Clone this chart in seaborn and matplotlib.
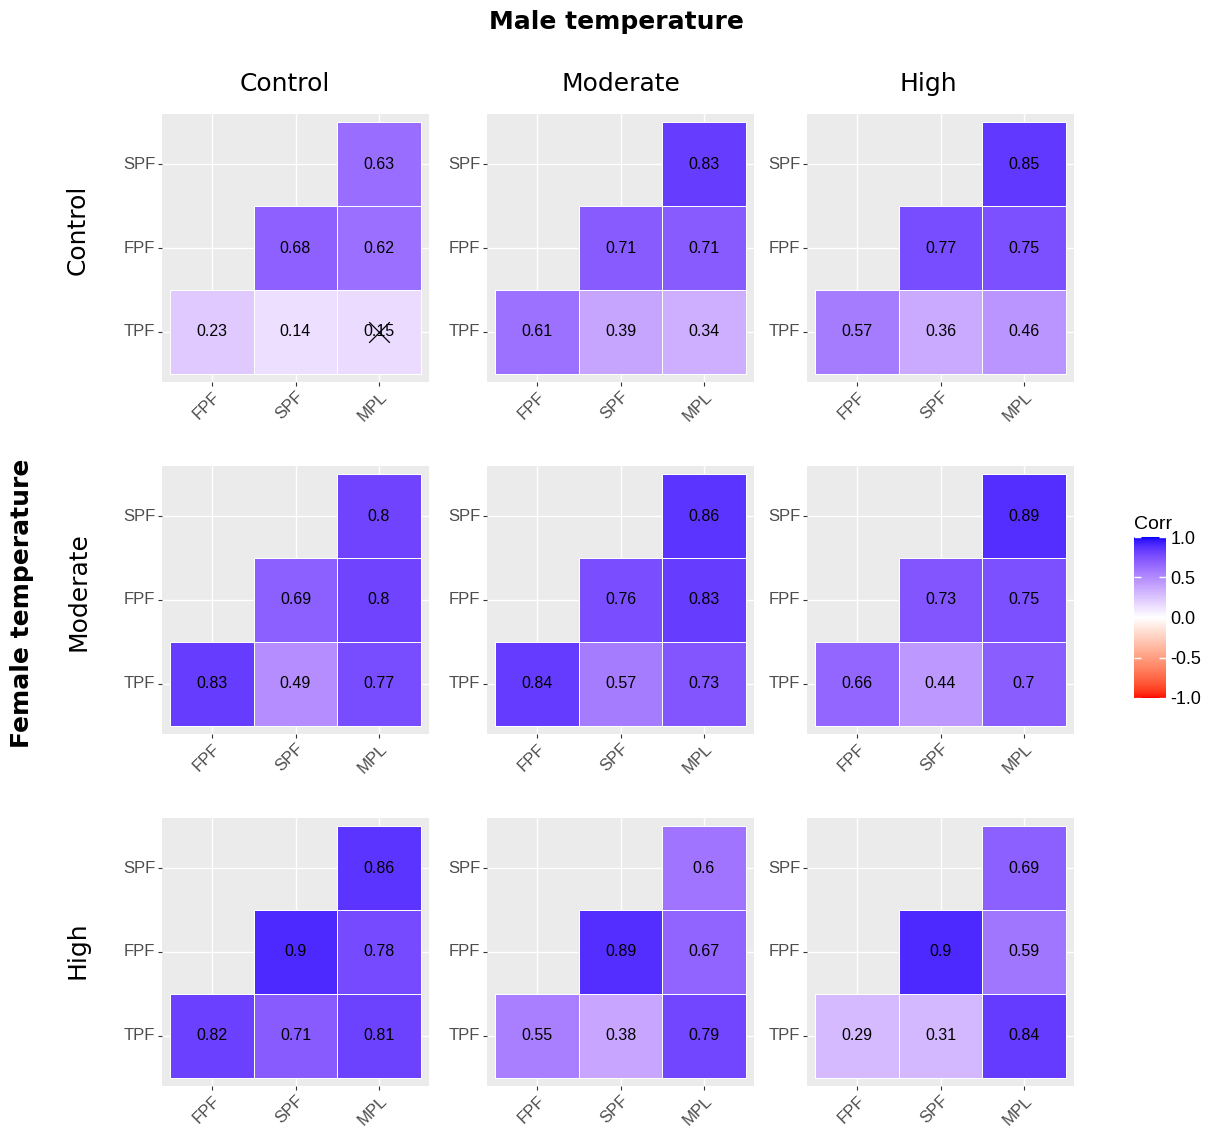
import numpy as np
import pandas as pd
import matplotlib
matplotlib.use("Agg")
import matplotlib.pyplot as plt
import seaborn as sns
from matplotlib.colors import ListedColormap

temps = ["Control", "Moderate", "High"]
row_vars = ["SPF", "FPF", "TPF"]   # top to bottom
col_vars = ["FPF", "SPF", "MPL"]
# lower triangle, in this order of pairs
pairs = [("SPF", "MPL"), ("FPF", "SPF"), ("FPF", "MPL"),
         ("TPF", "FPF"), ("TPF", "SPF"), ("TPF", "MPL")]

# one list per male temperature inside each female temperature
female_control = [[0.63, 0.68, 0.62, 0.23, 0.14, 0.15],
                  [0.83, 0.71, 0.71, 0.61, 0.39, 0.34],
                  [0.85, 0.77, 0.75, 0.57, 0.36, 0.46]]
female_moderate = [[0.8, 0.69, 0.8, 0.83, 0.49, 0.77],
                   [0.86, 0.76, 0.83, 0.84, 0.57, 0.73],
                   [0.89, 0.73, 0.75, 0.66, 0.44, 0.7]]
female_high = [[0.86, 0.9, 0.78, 0.82, 0.71, 0.81],
               [0.6, 0.89, 0.67, 0.55, 0.38, 0.79],
               [0.69, 0.9, 0.59, 0.29, 0.31, 0.84]]
all_values = [female_control, female_moderate, female_high]

# non-significant cells (female, male, row, col)
insignificant = [("Control", "Control", "TPF", "MPL")]


# ggplot-like diverging gradient (interpolated in Lab space)
def to_lab(rgb):
    rgb = np.asarray(rgb, float)
    lin = np.where(rgb > 0.04045, ((rgb + 0.055) / 1.055) ** 2.4, rgb / 12.92)
    m = np.array([[0.4124, 0.3576, 0.1805],
                  [0.2126, 0.7152, 0.0722],
                  [0.0193, 0.1192, 0.9505]])
    xyz = m @ lin / np.array([0.95047, 1.0, 1.08883])
    f = np.where(xyz > 0.008856, np.cbrt(xyz), 7.787 * xyz + 16 / 116)
    return np.array([116 * f[1] - 16, 500 * (f[0] - f[1]), 200 * (f[1] - f[2])])


def from_lab(lab):
    fy = (lab[0] + 16) / 116
    fx = fy + lab[1] / 500
    fz = fy - lab[2] / 200
    f = np.array([fx, fy, fz])
    xyz = np.where(f ** 3 > 0.008856, f ** 3, (f - 16 / 116) / 7.787)
    xyz = xyz * np.array([0.95047, 1.0, 1.08883])
    m = np.array([[3.2406, -1.5372, -0.4986],
                  [-0.9689, 1.8758, 0.0415],
                  [0.0557, -0.2040, 1.0570]])
    lin = m @ xyz
    rgb = np.where(lin > 0.0031308, 1.055 * np.clip(lin, 0, None) ** (1 / 2.4) - 0.055, 12.92 * lin)
    return np.clip(rgb, 0, 1)


red, white, blue = to_lab([1, 0, 0]), to_lab([1, 1, 1]), to_lab([0, 0, 1])
cols = []
for t in np.linspace(-1, 1, 256):
    if t < 0:
        lab = white + (red - white) * (-t)
    else:
        lab = white + (blue - white) * t
    cols.append(from_lab(lab))
corr_cmap = ListedColormap(cols)


def panel_frame(vals):
    df = pd.DataFrame(np.nan, index=row_vars, columns=col_vars)
    for (r, c), v in zip(pairs, vals):
        df.loc[r, c] = v
    return df


W, H = 1216, 1137
fig = plt.figure(figsize=(W / 100, H / 100), dpi=100)

lefts = [162, 487, 807]
tops = [114, 466, 818]
pw, ph = 267, 268
tick_font = "Liberation Sans"

mesh = None
for i, ftemp in enumerate(temps):
    for j, mtemp in enumerate(temps):
        ax = fig.add_axes([lefts[j] / W, 1 - (tops[i] + ph) / H, pw / W, ph / H])
        df = panel_frame(all_values[i][j])
        labels = df.map(lambda v: "" if np.isnan(v) else f"{v:g}")
        sns.heatmap(df, ax=ax, mask=df.isna(), cmap=corr_cmap, vmin=-1, vmax=1,
                    annot=labels, fmt="", cbar=False, linewidths=0.5, linecolor="white",
                    annot_kws={"color": "black", "fontsize": 11.5, "family": tick_font})
        mesh = ax.collections[0]
        # no outline on the empty upper-triangle cells
        edge = [(1, 1, 1, 0) if np.isnan(v) else (1, 1, 1, 1) for v in df.values.ravel()]
        mesh.set_edgecolors(edge)
        ax.set_facecolor("#EBEBEB")
        ax.grid(True, color="white", linewidth=1)
        ax.set_axisbelow(True)
        ax.set_xlim(-0.1, 3.1)
        ax.set_ylim(3.1, -0.1)
        ax.set_xlabel("")
        ax.set_ylabel("")
        ax.set_yticklabels(row_vars, rotation=0, fontsize=12, color="#4D4D4D", family=tick_font)
        ax.set_xticklabels(col_vars, rotation=45, ha="right", rotation_mode="anchor",
                           fontsize=12, color="#4D4D4D", family=tick_font)
        ax.tick_params(length=3, width=0.8, color="#333333", pad=2)
        for s in ax.spines.values():
            s.set_visible(False)
        for f_t, m_t, r, c in insignificant:
            if f_t == ftemp and m_t == mtemp:
                ax.scatter(col_vars.index(c) + 0.5, row_vars.index(r) + 0.5,
                           marker="x", s=220, color="black", linewidths=0.9, zorder=5)

# column and row titles
fig.text(616 / W, 1 - 22 / H, "Male temperature", ha="center", va="center",
         fontsize=18, fontweight="bold")
for j, (t, x) in enumerate(zip(temps, [285, 621, 928])):
    fig.text(x / W, 1 - 84 / H, t, ha="center", va="center", fontsize=18)
for i, (t, y) in enumerate(zip(temps, [230, 592, 950])):
    fig.text(78 / W, 1 - y / H, t, ha="center", va="center", rotation=90, fontsize=18)
fig.text(22 / W, 1 - 603 / H, "Female temperature", ha="center", va="center",
         rotation=90, fontsize=18, fontweight="bold")

# colour bar
cax = fig.add_axes([1134 / W, 1 - 698 / H, 32 / W, 161 / H])
cb = fig.colorbar(mesh, cax=cax, ticks=[-1, -0.5, 0, 0.5, 1])
cb.outline.set_visible(False)
cb.set_ticklabels(["-1.0", "-0.5", "0.0", "0.5", "1.0"])
cax.tick_params(which="both", left=True, right=True, direction="in", color="white",
                length=5, width=1, labelsize=13, pad=3)
for lab in cax.get_yticklabels():
    lab.set_family(tick_font)
cax.set_title("Corr", loc="left", fontsize=14, family=tick_font, pad=6)

fig.savefig("out.png", dpi=100)
